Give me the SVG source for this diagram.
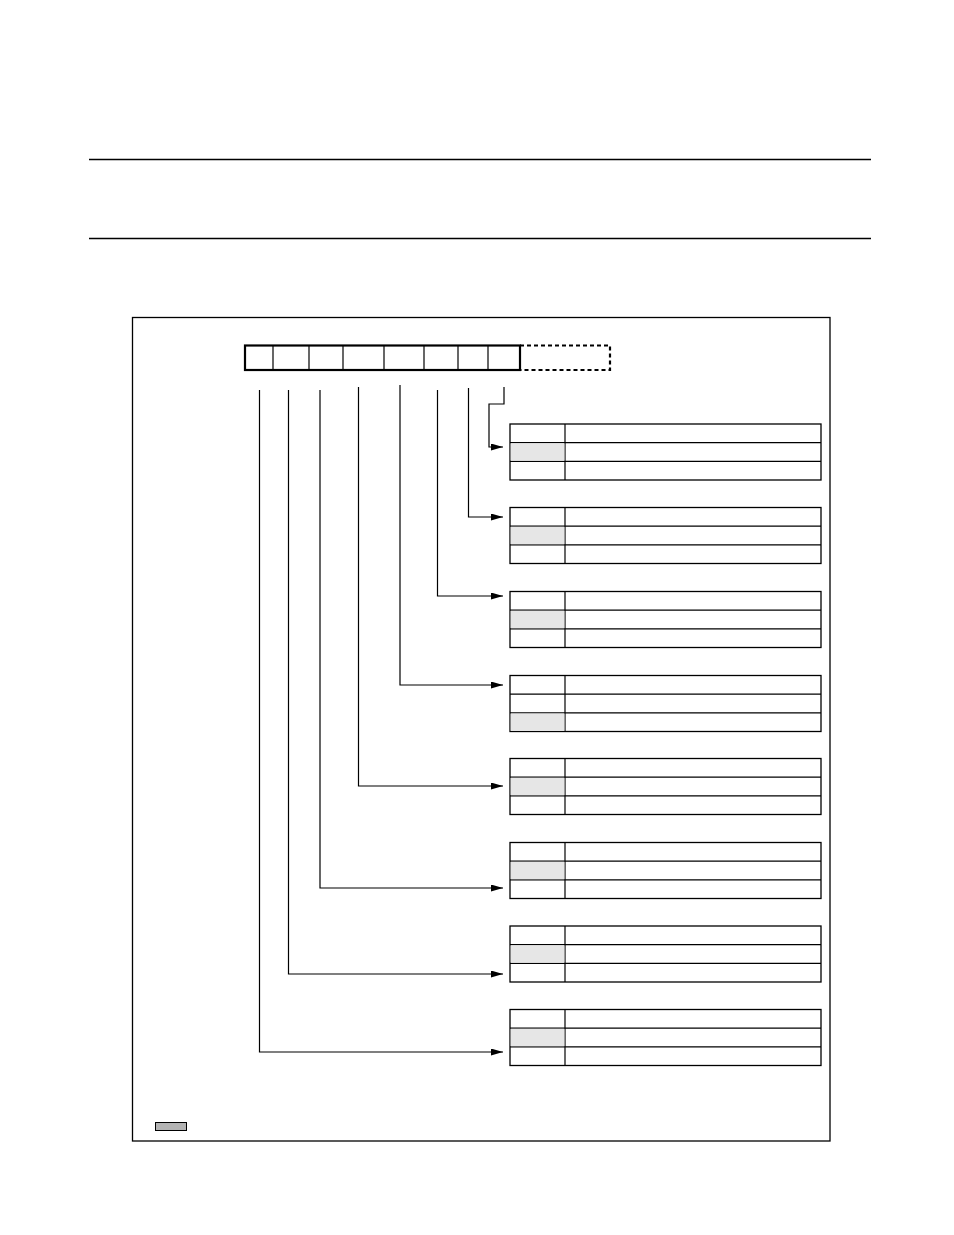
<svg xmlns="http://www.w3.org/2000/svg" width="954" height="1235" viewBox="0 0 954 1235">
<style>
.rule{stroke:#000;stroke-width:1.3;fill:none}
.frame{stroke:#000;stroke-width:1.3;fill:none}
.reg{stroke:#000;stroke-width:2.2;fill:none}
.regd{stroke:#000;stroke-width:2.2;fill:none;stroke-dasharray:4,3}
.cell{stroke:#000;stroke-width:1.2;fill:none}
.tbl{stroke:#000;stroke-width:1.3;fill:#fff}
.sh{fill:#e6e6e6;stroke:none}
.con{stroke:#000;stroke-width:1.2;fill:none}
</style>
<defs>
<marker id="ah" markerWidth="12" markerHeight="7" refX="12" refY="3.5" orient="auto" markerUnits="userSpaceOnUse">
<path d="M0,0 L12,3.5 L0,7 Z" fill="#000"/>
</marker>
<g id="table">
<rect x="0" y="0" width="311" height="56" class="tbl"/>
<line x1="0" y1="18.7" x2="311" y2="18.7" class="cell"/>
<line x1="0" y1="37.3" x2="311" y2="37.3" class="cell"/>
<line x1="55" y1="0" x2="55" y2="56" class="cell"/>
</g>
</defs>
<rect width="954" height="1235" fill="#fff"/>
<line x1="89" y1="159.5" x2="871" y2="159.5" class="rule"/>
<line x1="89" y1="238.5" x2="871" y2="238.5" class="rule"/>
<rect id="frame" x="132.5" y="317.5" width="697.5" height="823.5" class="frame"/>
<g id="register">
<path d="M520,345.5 H610 V370 H520" class="regd"/>
<rect x="245" y="345.5" width="275" height="24.5" class="reg"/>
<line x1="273" y1="345.5" x2="273" y2="370" class="cell"/>
<line x1="309" y1="345.5" x2="309" y2="370" class="cell"/>
<line x1="343" y1="345.5" x2="343" y2="370" class="cell"/>
<line x1="384" y1="345.5" x2="384" y2="370" class="cell"/>
<line x1="424" y1="345.5" x2="424" y2="370" class="cell"/>
<line x1="458" y1="345.5" x2="458" y2="370" class="cell"/>
<line x1="488" y1="345.5" x2="488" y2="370" class="cell"/>
</g>
<g id="table1"><use href="#table" x="510" y="424"/><rect x="510.7" y="443.3" width="53.7" height="17.4" class="sh"/></g>
<g id="table2"><use href="#table" x="510" y="507.5"/><rect x="510.7" y="526.8" width="53.7" height="17.4" class="sh"/></g>
<g id="table3"><use href="#table" x="510" y="591.5"/><rect x="510.7" y="610.8" width="53.7" height="17.4" class="sh"/></g>
<g id="table4"><use href="#table" x="510" y="675.5"/><rect x="510.7" y="713.5" width="53.7" height="17.4" class="sh"/></g>
<g id="table5"><use href="#table" x="510" y="758.5"/><rect x="510.7" y="777.8" width="53.7" height="17.4" class="sh"/></g>
<g id="table6"><use href="#table" x="510" y="842.5"/><rect x="510.7" y="861.8" width="53.7" height="17.4" class="sh"/></g>
<g id="table7"><use href="#table" x="510" y="926"/><rect x="510.7" y="945.3" width="53.7" height="17.4" class="sh"/></g>
<g id="table8"><use href="#table" x="510" y="1009.5"/><rect x="510.7" y="1028.8" width="53.7" height="17.4" class="sh"/></g>
<g id="connectors">
<path d="M504,387 V404 H489 V447 H503" class="con" marker-end="url(#ah)"/>
<path d="M468.5,388 V517 H503" class="con" marker-end="url(#ah)"/>
<path d="M437.5,390 V596 H503" class="con" marker-end="url(#ah)"/>
<path d="M400,385 V685 H503" class="con" marker-end="url(#ah)"/>
<path d="M358.5,387 V786 H503" class="con" marker-end="url(#ah)"/>
<path d="M320,390 V888 H503" class="con" stroke-width="1.6" marker-end="url(#ah)"/>
<path d="M288.5,390 V974 H503" class="con" marker-end="url(#ah)"/>
<path d="M259.5,390 V1052 H503" class="con" marker-end="url(#ah)"/>
</g>
<rect id="legend" x="155.5" y="1122.5" width="31" height="8" fill="#b3b3b3" stroke="#000" stroke-width="1"/>
</svg>
